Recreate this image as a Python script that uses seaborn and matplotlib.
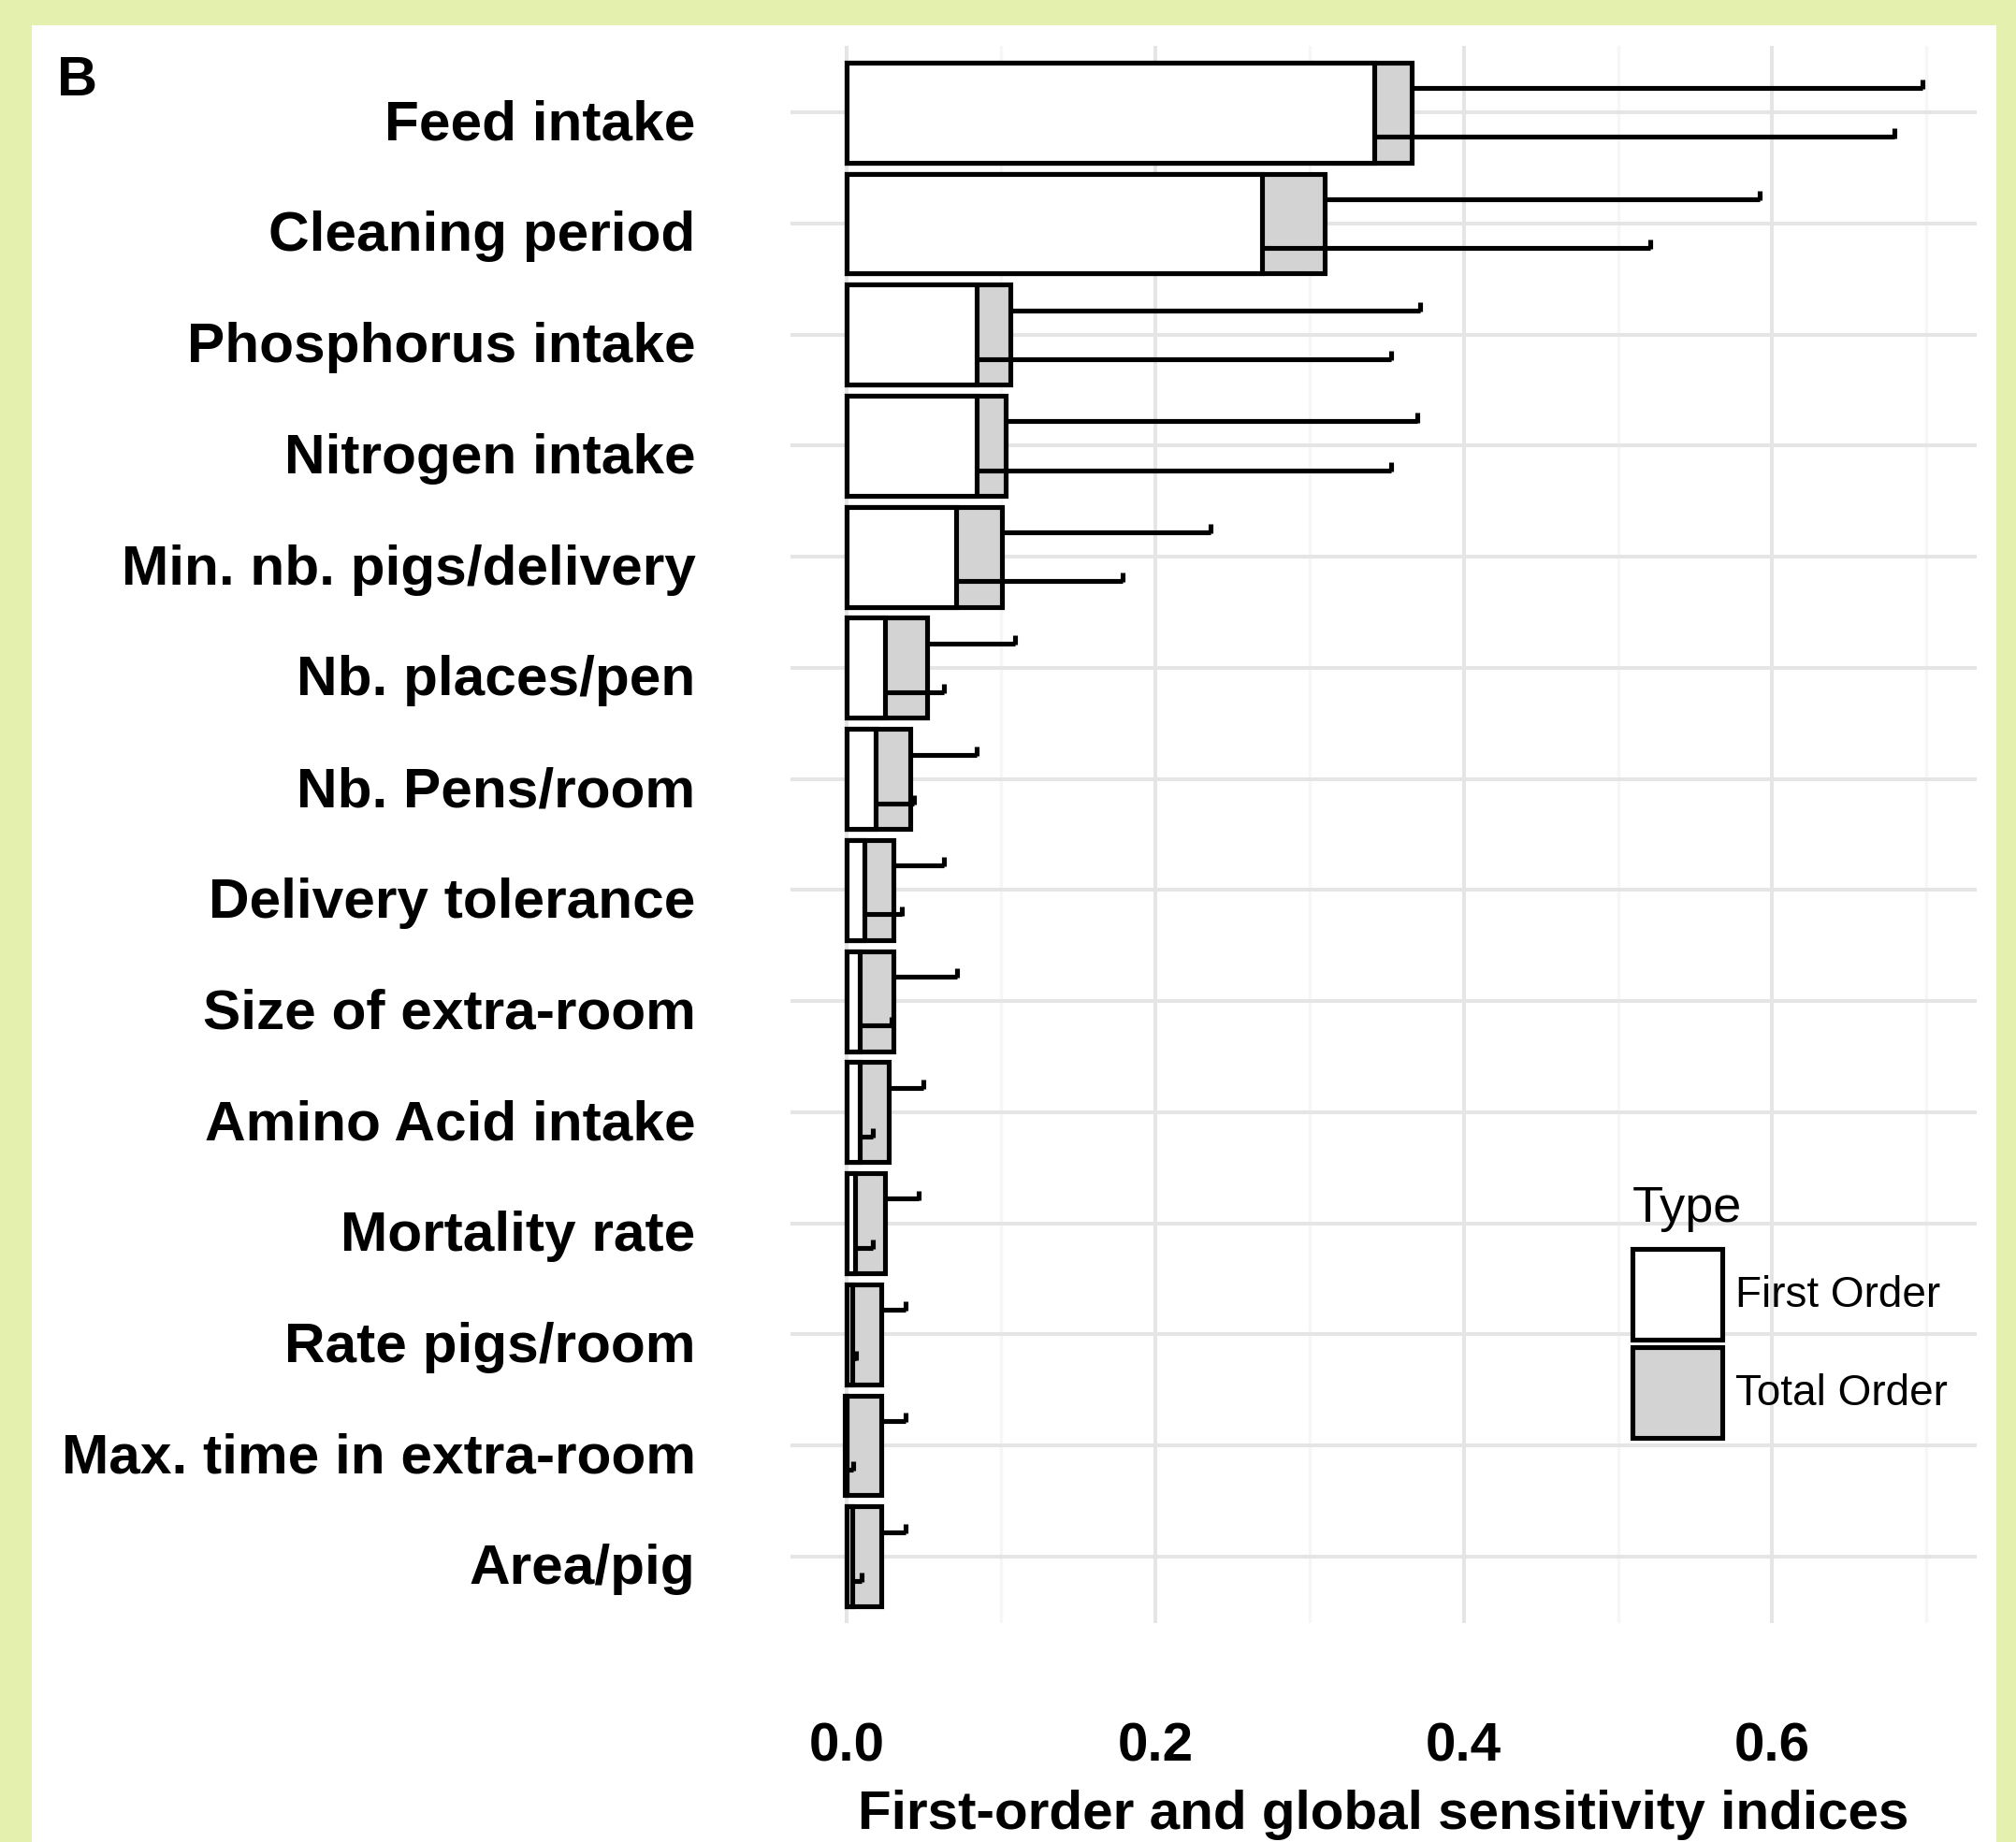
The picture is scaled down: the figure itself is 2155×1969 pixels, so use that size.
import numpy as np
import pandas as pd
import matplotlib
matplotlib.use("Agg")
import matplotlib.pyplot as plt
import matplotlib.ticker as mticker
import matplotlib.transforms as mtransforms
from matplotlib.patches import Patch, Rectangle
import seaborn as sns

# Sobol indices per parameter
params = ["Feed intake", "Cleaning period", "Phosphorus intake", "Nitrogen intake",
          "Min. nb. pigs/delivery", "Nb. places/pen", "Nb. Pens/room",
          "Delivery tolerance", "Size of extra-room", "Amino Acid intake",
          "Mortality rate", "Rate pigs/room", "Max. time in extra-room", "Area/pig"]
first_order = [0.342, 0.269, 0.084, 0.084, 0.071, 0.025, 0.019,
               0.0115, 0.0085, 0.0085, 0.0055, 0.0035, -0.0015, 0.0035]
total_order = [0.366, 0.310, 0.106, 0.103, 0.1005, 0.052, 0.041,
               0.030, 0.030, 0.027, 0.025, 0.0224, 0.0224, 0.0224]
first_upper = [0.679, 0.521, 0.353, 0.353, 0.179, 0.063, 0.0436,
               0.0358, 0.029, 0.017, 0.017, 0.006, 0.004, 0.0097]
total_upper = [0.6976, 0.592, 0.372, 0.370, 0.236, 0.109, 0.0842,
               0.063, 0.0715, 0.0497, 0.0467, 0.038, 0.038, 0.038]

df = pd.DataFrame({"param": params, "first": first_order, "total": total_order,
                   "first_hi": first_upper, "total_hi": total_upper})

sns.set_style("white")
plt.rcParams["font.family"] = ["Liberation Sans", "DejaVu Sans"]
plt.rcParams["text.color"] = "black"

W, H = 2155, 1969
fig = plt.figure(figsize=(W / 100, H / 100), dpi=100)
fig.patch.set_facecolor("#e4f0ae")
# white panel inside the coloured frame
fig.patches.append(Rectangle((34 / W, 0), 2100 / W, (H - 27) / H,
                             transform=fig.transFigure, facecolor="white",
                             edgecolor="none", zorder=-10))

ax = fig.add_axes([845 / W, 1 - 1735 / H, (2113 - 845) / W, (1735 - 49) / H])
ax.set_facecolor("none")

lw = 3.7
sns.barplot(data=df, x="total", y="param", color="lightgrey", saturation=1,
            edgecolor="black", linewidth=lw, width=0.9, errorbar=None,
            orient="h", ax=ax, zorder=2)
sns.barplot(data=df, x="first", y="param", color="white", saturation=1,
            edgecolor="black", linewidth=lw, width=0.9, errorbar=None,
            orient="h", ax=ax, zorder=3)

# error bars: total order above the row centre, first order below
pos = np.arange(len(params))
off = 0.22
yt = pos - off
yf = pos + off
ax.hlines(yt, df["total"], df["total_hi"], color="black", lw=lw, zorder=4)
ax.vlines(df["total_hi"], yt - 0.075, yt + 0.01, color="black", lw=lw, zorder=4)
ax.hlines(yf, df["first"], df["first_hi"], color="black", lw=lw, zorder=4)
ax.vlines(df["first_hi"], yf - 0.075, yf + 0.01, color="black", lw=lw, zorder=4)

vals = np.concatenate([first_order, total_order, first_upper, total_upper])
span = vals.max() - vals.min()
ax.set_xlim(vals.min() - 0.05 * span, vals.max() + 0.05 * span)
ax.set_ylim(len(params) - 0.4, -0.6)

ax.xaxis.set_major_locator(mticker.FixedLocator([0.0, 0.2, 0.4, 0.6]))
ax.xaxis.set_major_formatter(mticker.FormatStrFormatter("%.1f"))
ax.xaxis.set_minor_locator(mticker.MultipleLocator(0.1))
ax.set_axisbelow(True)
ax.grid(True, which="major", axis="both", color="#e5e5e5", lw=2.9, zorder=0)
ax.grid(True, which="minor", axis="x", color="#f6f6f6", lw=2.4, zorder=0)
for s in ax.spines.values():
    s.set_visible(False)
ax.tick_params(axis="both", which="both", length=0)
ax.tick_params(axis="x", pad=76, labelsize=42, labelcolor="black")
ax.tick_params(axis="y", pad=73, labelsize=43.5, labelcolor="black")
shift = mtransforms.ScaledTranslation(0, -0.08, fig.dpi_scale_trans)
for t in ax.get_xticklabels():
    t.set_fontweight("bold")
for t in ax.get_yticklabels():
    t.set_fontweight("bold")
    t.set_transform(t.get_transform() + shift)

ax.set_ylabel("")
ax.set_xlabel("First-order and global sensitivity indices", fontsize=42,
              fontweight="bold", labelpad=13, color="black")

handles = [Patch(facecolor="white", edgecolor="black", lw=lw, label="First Order"),
           Patch(facecolor="lightgrey", edgecolor="black", lw=lw, label="Total Order")]
leg = ax.legend(handles=handles, title="Type", loc="upper left",
                bbox_to_anchor=(1745 / W, 1 - 1267 / H), bbox_transform=fig.transFigure,
                frameon=False, prop={"size": 33}, title_fontsize=39,
                handlelength=2.1, handleheight=2.88, labelspacing=0.18,
                handletextpad=0.3, borderpad=0, borderaxespad=0,
                alignment="left")
leg._legend_box.sep = 13

fig.text(61 / W, 1 - 102 / H, "B", fontsize=43, fontweight="bold",
         va="baseline", ha="left", color="black")

fig.savefig("out.png", dpi=100, facecolor=fig.get_facecolor())
